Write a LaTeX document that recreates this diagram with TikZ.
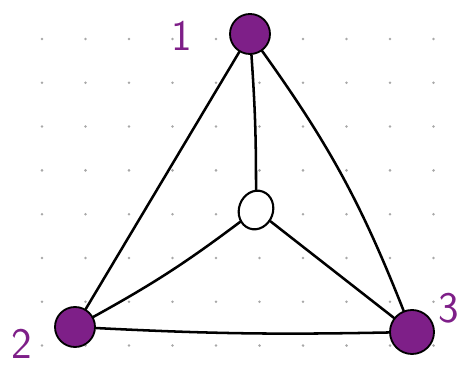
\documentclass[tikz,border=0pt]{standalone}
\usepackage{tikz}
\usetikzlibrary{positioning,shapes.geometric}
\definecolor{sketchplum}{HTML}{7E1F88}
\definecolor{dotgray}{HTML}{A8A8A8}
\tikzset{
  % hörn
  pv/.style={circle,draw=black,fill=sketchplum,line width=1.3pt,inner sep=0pt,
             minimum size=1cm},
  cv/.style={ellipse,draw=black,fill=white,line width=1.5pt,inner sep=0pt,
             minimum width=0.85cm,minimum height=0.98cm,rotate=-20},
  se/.style={draw=black,line width=1.8pt,line cap=round},
  lab/.style={text=sketchplum,font=\sffamily\fontsize{31}{31}\selectfont,inner sep=0pt},
  gdot/.style={fill=dotgray},
}
\begin{document}
\begin{tikzpicture}[x=0.025cm,y=-0.025cm]
\useasboundingbox (0,0) rectangle (468,366);
  \foreach \i in {0,...,9}
    \foreach \j in {0,...,7}
      \fill[gdot] (42+43.5*\i,39+43.8*\j) circle (1.4);
  \node[pv] (v1) at (250,34) {};
  \node[pv] (v2) at (75,327) {};
  \node[pv,minimum size=1.1cm] (v3) at (412,332) {};
  \node[cv] (c) at (256,210) {};
  \draw[se] (v1) -- (v2);
  \draw[se] (v1) to[bend left=7] (v3);
  \draw[se] (v1) to[bend left=2] (c);
  \draw[se] (c) to[bend left=4] (v2);
  \draw[se] (c) -- (v3);
  \draw[se] (v3) to[bend left=2] (v2);
  \node[lab] (l1) at (182,36) {1};
  \node[lab] (l2) at (22,344) {2};
  \node[lab] (l3) at (449,308) {3};
\end{tikzpicture}
\end{document}
